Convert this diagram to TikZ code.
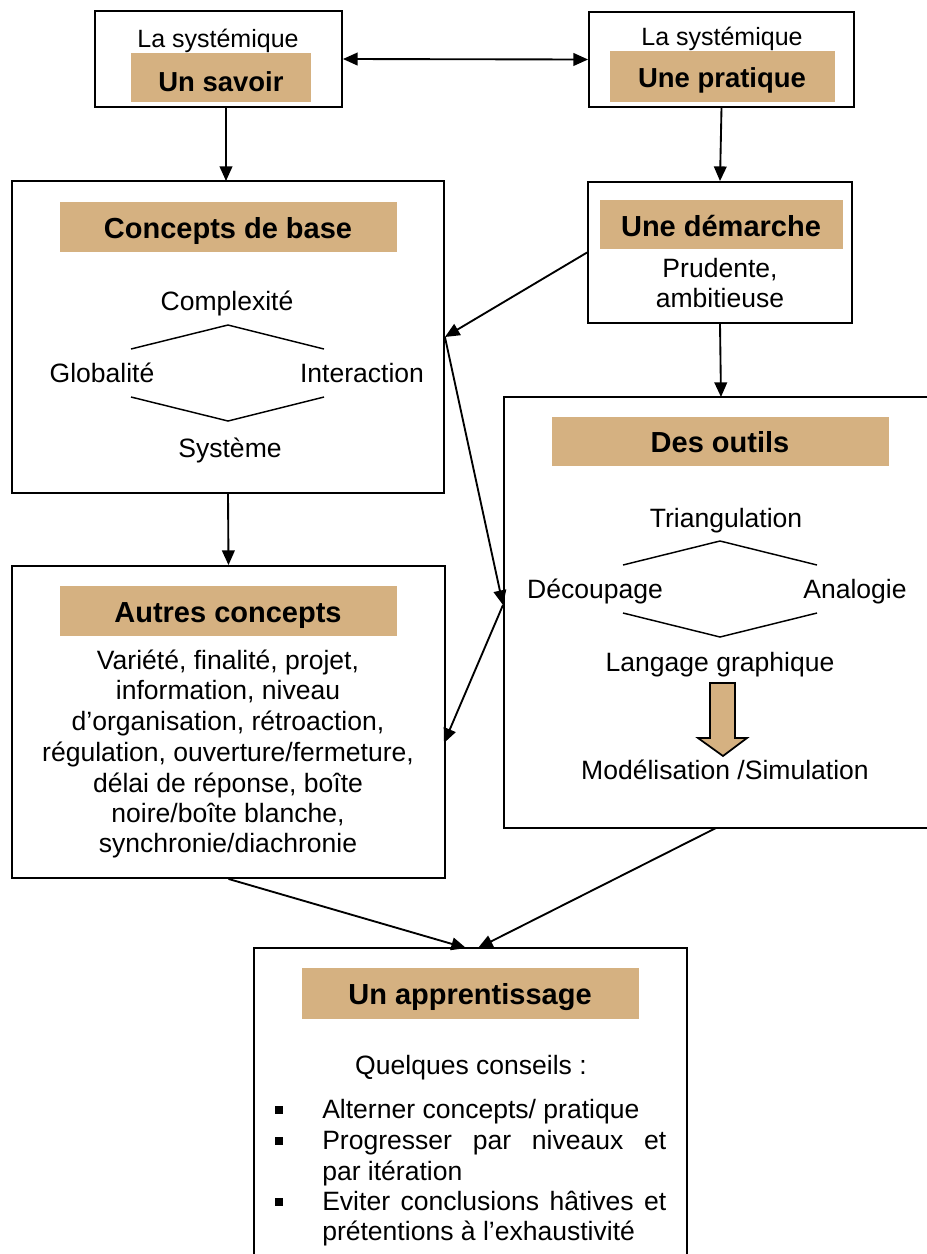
\documentclass[tikz,border=0pt]{standalone}
\usepackage{fontspec}
\setmainfont{Liberation Sans}
\usetikzlibrary{arrows.meta,fit}
\definecolor{tanfill}{RGB}{213,177,129}
\begin{document}
\begin{tikzpicture}[x=0.75pt,y=-0.75pt,
  box/.style={draw=black, line width=1.4pt, inner sep=0pt, fill=white},
  tanbar/.style={fill=tanfill, draw=none, inner sep=0pt},
  ttl/.style={font=\fontsize{21.75pt}{26pt}\selectfont\bfseries, anchor=base, inner sep=0pt},
  ttlsm/.style={font=\fontsize{20.6pt}{24pt}\selectfont\bfseries, anchor=base, inner sep=0pt},
  txt/.style={font=\fontsize{19.9pt}{23pt}\selectfont, anchor=base, inner sep=0pt},
  txtl/.style={txt, anchor=base west},
  sys/.style={font=\fontsize{18.75pt}{22pt}\selectfont, anchor=base, inner sep=0pt},
  arr/.style={line width=1.4pt, -{Triangle[length=11pt,width=9.5pt]}},
  dbl/.style={line width=1.4pt, {Triangle[length=11pt,width=9.5pt]}-{Triangle[length=11pt,width=9.5pt]}},
  hexa/.style={line width=1.1pt},
  bullet/.style={fill=black, draw=none, minimum size=6pt, inner sep=0pt},
  blockarrow/.style={fill=tanfill, draw=black, line width=1.3pt, line join=miter},
]
\fill[white] (0,0) rectangle (927,1254);
\useasboundingbox (0,0) rectangle (927,1254);

% boxes
\node[box, fit={(95,11) (342,107)}] (A) {};
\node[box, fit={(589,12) (854,107)}] (B) {};
\node[box, fit={(12,181) (444,493)}] (C) {};
\node[box, fit={(588,182) (852,323)}] (D) {};
\node[box, fit={(504,397) (945,828)}] (E) {};
\node[box, fit={(12,566) (445,878)}] (F) {};
\node[box, fit={(254,948) (687,1275)}] (G) {};

% tan bars
\node[tanbar, fit={(131,53) (311,102)}] (At) {};
\node[tanbar, fit={(610,51) (835,102)}] (Bt) {};
\node[tanbar, fit={(60,202) (397,252)}] (Ct) {};
\node[tanbar, fit={(600,200) (843,249)}] (Dt) {};
\node[tanbar, fit={(552,417) (889,466)}] (Et) {};
\node[tanbar, fit={(60,586) (397,636)}] (Ft) {};
\node[tanbar, fit={(302,968) (639,1019)}] (Gt) {};

% box A
\node[sys] (Asys) at (218,47) {La systémique};
\node[ttlsm] (Attl) at (221,91) {Un savoir};
% box B
\node[sys] (Bsys) at (722,45) {La systémique};
\node[ttlsm] (Bttl) at (722,87) {Une pratique};
% box D
\node[ttl] (Dttl) at (721,236) {Une démarche};
\node[txt] (D1) at (720,277) {Prudente,};
\node[txt] (D2) at (720,307) {ambitieuse};

% box C
\node[ttl] (Cttl) at (228,238) {Concepts de base};
\node[txt] (Ccomp) at (227,310) {Complexité};
\node[txt] (Cglob) at (102,382) {Globalité};
\node[txt] (Cinter) at (362,382) {Interaction};
\node[txt] (Csys) at (230,457) {Système};
\draw[hexa] (131,349) -- (228,325) -- (324,349);
\draw[hexa] (131,397) -- (228,421) -- (324,397);

% box F
\node[ttl] (Fttl) at (228,622) {Autres concepts};
\node[txt] (F1) at (228,669) {Variété, finalité, projet,};
\node[txt] (F2) at (228,699) {information, niveau};
\node[txt] (F3) at (228,730) {d’organisation, rétroaction,};
\node[txt] (F4) at (228,761) {régulation, ouverture/fermeture,};
\node[txt] (F5) at (228,792) {délai de réponse, boîte};
\node[txt] (F6) at (228,822) {noire/boîte blanche,};
\node[txt] (F7) at (228,852) {synchronie/diachronie};

% box E
\node[ttl] (Ettl) at (720,452) {Des outils};
\node[txt] (Etri) at (726,527) {Triangulation};
\node[txt] (Edec) at (595,598) {Découpage};
\node[txt] (Eana) at (855,598) {Analogie};
\node[txt] (Elang) at (720,671) {Langage graphique};
\node[txt] (Emod) at (725,779) {Modélisation /Simulation};
\draw[hexa] (623,565) -- (720,541) -- (817,565);
\draw[hexa] (623,613) -- (720,637) -- (817,613);
\draw[blockarrow] (710,683) -- (735,683) -- (735,738) -- (747,738) -- (723,756) -- (698,738) -- (710,738) -- cycle;

% box G
\node[ttl] (Gttl) at (470,1004) {Un apprentissage};
\node[txt] (Gq) at (471,1074) {Quelques conseils :};
\node[bullet] (b1) at (279,1110) {};
\node[bullet] (b2) at (279,1141) {};
\node[bullet] (b3) at (279,1202) {};
\node[txtl] (G1) at (322,1118) {Alterner concepts/ pratique};
\node[txtl] (G2) at (322,1149) {\hbox to 258pt{Progresser\hfill par\hfill niveaux\hfill et}};
\node[txtl] (G3) at (322,1180) {par itération};
\node[txtl] (G4) at (322,1210) {\hbox to 258pt{Eviter\hfill conclusions\hfill hâtives\hfill et}};
\node[txtl] (G5) at (322,1240) {prétentions à l’exhaustivité};

% connector points
\coordinate (Aout) at (226,107);
\coordinate (Cin) at (226,181);
\coordinate (Ein) at (503,605);
\coordinate (Fin) at (444,743);
\coordinate (Etop) at (721,397);
\coordinate (Eout) at (716,828);
\coordinate (Gin1) at (466,948);
\coordinate (Gin2) at (478,948);

% connectors
\draw[dbl] (A.east) -- (B.west);
\draw[arr] (Aout) -- (Cin);
\draw[arr] (B.south) -- (D.north);
\draw[arr] (D.west) -- (C.east);
\draw[arr] (C.east) -- (Ein);
\draw[arr] (Ein) -- (Fin);
\draw[arr] (C.south) -- (F.north);
\draw[arr] (D.south) -- (Etop);
\draw[arr] (F.south) -- (Gin1);
\draw[arr] (Eout) -- (Gin2);
\end{tikzpicture}
\end{document}
